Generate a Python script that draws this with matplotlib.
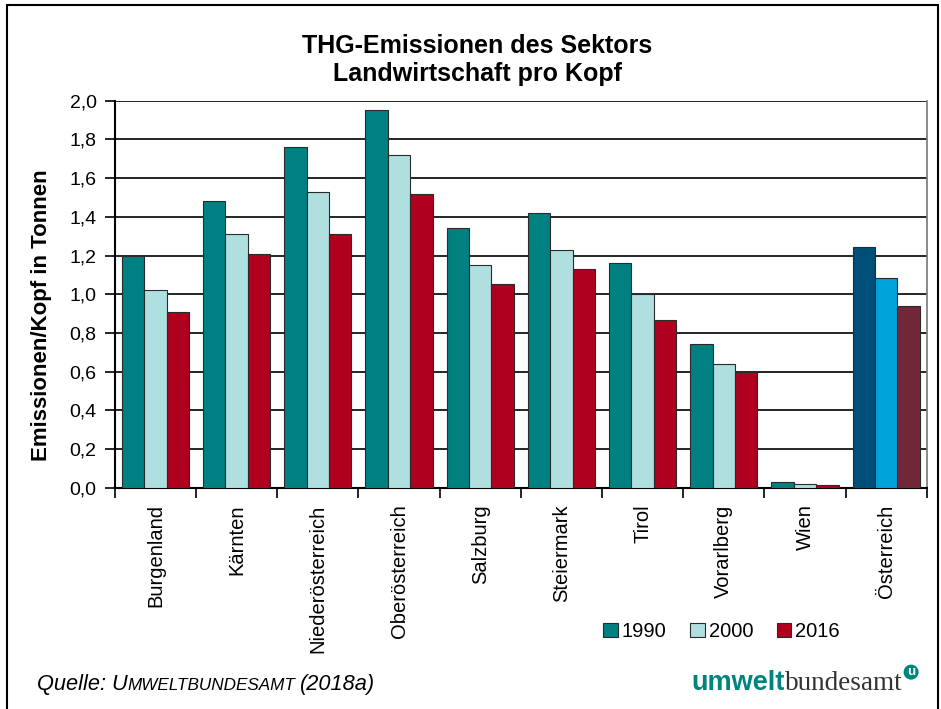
import numpy as np
import matplotlib
matplotlib.use("Agg")
import matplotlib.pyplot as plt
from matplotlib.patches import Rectangle, Circle

plt.rcParams['font.family'] = ['Liberation Sans', 'DejaVu Sans']

# data
regions = ['Burgenland', 'Kärnten', 'Niederösterreich', 'Oberösterreich', 'Salzburg',
           'Steiermark', 'Tirol', 'Vorarlberg', 'Wien', 'Österreich']
years = ['1990', '2000', '2016']
v1990 = [1.20, 1.48, 1.76, 1.95, 1.34, 1.42, 1.16, 0.745, 0.03, 1.245]
v2000 = [1.02, 1.31, 1.53, 1.72, 1.15, 1.23, 1.00, 0.64, 0.02, 1.085]
v2016 = [0.91, 1.21, 1.31, 1.52, 1.055, 1.13, 0.865, 0.60, 0.012, 0.94]
yticks = [0.0, 0.2, 0.4, 0.6, 0.8, 1.0, 1.2, 1.4, 1.6, 1.8, 2.0]

cols = ['#008080', '#B0DFDF', '#B0001F']
cols_at = ['#004F78', '#00A3DA', '#722739']

fig = plt.figure(figsize=(9.41, 7.09), dpi=100)
ax = fig.add_axes([0.122, 0.312, 0.863, 0.546])

x = np.arange(len(regions))
w = 0.276
for k, vals in enumerate([v1990, v2000, v2016]):
    c = [cols[k]] * (len(regions) - 1) + [cols_at[k]]
    ax.bar(x + (k - 1) * w, vals, width=w, color=c, edgecolor='#2a2a2a',
           linewidth=0.8, zorder=3, label=years[k])

ax.set_xlim(-0.5, len(regions) - 0.5)
ax.set_ylim(0, 2.0)
ax.set_yticks(yticks)
ax.set_yticklabels([f'{t:.1f}'.replace('.', ',') for t in yticks], fontsize=14)
for t in yticks[1:]:
    ax.axhline(t, color='black', lw=1.2, zorder=1)

ax.set_xticks(x)
ax.set_xticklabels(regions, rotation=90, fontsize=14.5, va='top')
ax.set_xticks(np.arange(-0.5, len(regions), 1), minor=True)
ax.tick_params(axis='x', which='major', length=0, pad=12)
ax.tick_params(axis='x', which='minor', length=7, width=1.2, direction='out')
ax.tick_params(axis='y', length=7, width=1.2, direction='out', pad=6)

for s in ['left', 'bottom']:
    ax.spines[s].set_linewidth(1.5)
    ax.spines[s].set_color('black')
ax.spines['top'].set_visible(False)
ax.spines['right'].set_color('#777777')
ax.spines['right'].set_linewidth(1.2)

fig.text(0.044, 0.556, 'Emissionen/Kopf in Tonnen', rotation=90, fontsize=16,
         fontweight='bold', ha='center', va='center')
fig.text(0.507, 0.915, 'THG-Emissionen des Sektors\nLandwirtschaft pro Kopf',
         fontsize=18, fontweight='bold', ha='center', va='center', linespacing=1.2)

leg = fig.legend(loc='center', bbox_to_anchor=(0.767, 0.109), ncol=3, frameon=False,
                 fontsize=14.5, handlelength=0.7, handleheight=0.7, handletextpad=0.2,
                 columnspacing=1.2)
for i, h in enumerate(leg.legend_handles):
    h.set_facecolor(cols[i])

# source line with small caps
r = fig.canvas.get_renderer()
t1 = fig.text(0.039, 0.027, 'Quelle: U', fontsize=15.7, style='italic', va='baseline')
bb = t1.get_window_extent(r)
t2 = fig.text(bb.x1 / fig.bbox.width, 0.027, 'MWELTBUNDESAMT', fontsize=12.3,
              style='italic', va='baseline')
bb2 = t2.get_window_extent(r)
fig.text(bb2.x1 / fig.bbox.width + 0.005, 0.027, '(2018a)', fontsize=15.7,
         style='italic', va='baseline')

# logo
l1 = fig.text(0.735, 0.027, 'umwelt', fontsize=19.5, fontweight='bold', color='#00847F',
              va='baseline')
lb = l1.get_window_extent(r)
l2 = fig.text(lb.x1 / fig.bbox.width, 0.027, 'bundesamt', fontsize=19.5,
              family='Liberation Serif', color='#333333', va='baseline')
lb2 = l2.get_window_extent(r)
cx = lb2.x1 / fig.bbox.width + 0.009
fig.patches.append(Circle((cx * 941, 0.052 * 709), 7.5, transform=None,
                          facecolor='#00847F', edgecolor='none'))
fig.text(cx, 0.052, 'u', fontsize=9.5, fontweight='bold', color='white',
         ha='center', va='center')

# figure frame
fig.patches.append(Rectangle((0.0075, -0.05), 0.9895, 1.043, transform=fig.transFigure,
                             fill=False, edgecolor='black', linewidth=1.5))

fig.savefig('out.png', dpi=100)
